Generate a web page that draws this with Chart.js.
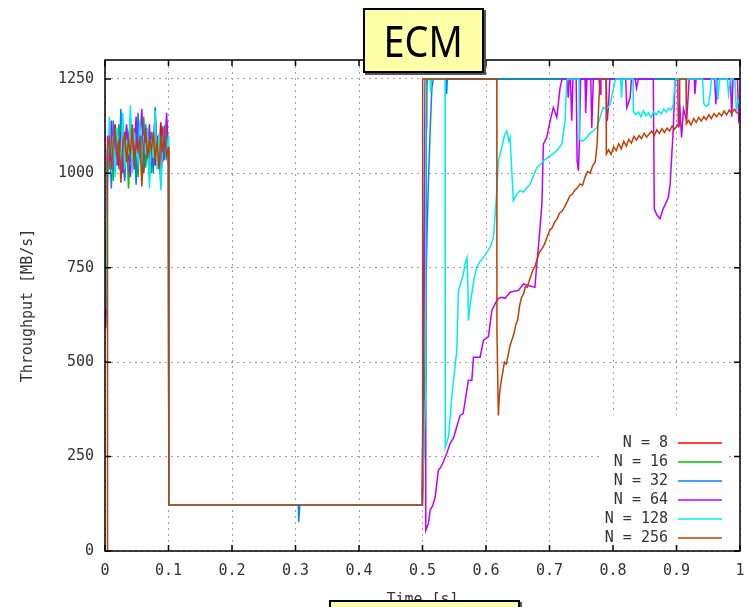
<!DOCTYPE html>
<html>
<head>
<meta charset="utf-8">
<script src="https://cdn.jsdelivr.net/npm/chart.js@4.4.1/dist/chart.umd.min.js"></script>
<style>
  body { margin: 0; background: #fff; }
  #wrap { position: relative; width: 748px; height: 607px; overflow: hidden; }
  .box { position: absolute; background: #ffffa8; border: 2px solid #000; box-shadow: 2px 2px 0 #555; }
  #titleBox { left: 363px; top: 8px; width: 117px; height: 61px; text-align: center; }
  #titleBox span { display: inline-block; font-family: "Noto Sans", sans-serif; font-size: 44px; line-height: 61px; color: #000; transform: scaleX(0.86); }
  #footBox { left: 329px; top: 600px; width: 187px; height: 30px; }
</style>
</head>
<body>
<div id="wrap">
  <canvas id="chart" width="748" height="607"></canvas>
  <div class="box" id="titleBox"><span>ECM</span></div>
  <div class="box" id="footBox"></div>
</div>
<script>
// series names and colours (gnuplot defaults)
const seriesNames = ['N = 8', 'N = 16', 'N = 32', 'N = 64', 'N = 128', 'N = 256'];
const seriesColors = ['#ff0000', '#00c000', '#0080ff', '#c000ff', '#00eeee', '#c04000'];

const xTicks = [0, 0.1, 0.2, 0.3, 0.4, 0.5, 0.6, 0.7, 0.8, 0.9, 1];
const yTicks = [0, 250, 500, 750, 1000, 1250];

// time stamps of the start-up burst (0 .. 0.1 s), shared by all series
const burstTimes = [0.004, 0.007, 0.01, 0.013, 0.016, 0.019, 0.022, 0.025, 0.028, 0.031, 0.034,
  0.037, 0.04, 0.043, 0.046, 0.049, 0.052, 0.055, 0.058, 0.061, 0.064, 0.067, 0.07, 0.073,
  0.076, 0.079, 0.082, 0.085, 0.088, 0.091, 0.094, 0.097, 0.1];

const burst8 = [1040, 1110, 1000, 1090, 1130, 1020, 1080, 1050, 1120, 990, 1070, 1100, 1030, 1085, 1010, 1095,
  1045, 1125, 1060, 1000, 1080, 1040, 1110, 1050, 1090, 1020, 1100, 1060, 1135, 1030, 1080, 1045, 1060];
const burst16 = [1070, 1010, 1100, 980, 1080, 1050, 1130, 1000, 1090, 1040, 1110, 960, 1075, 1030, 1120, 1055,
  990, 1100, 1045, 1150, 1015, 1085, 1060, 1000, 1070, 1120, 1035, 1095, 975, 1110, 1050, 1140, 1030];
const burst32 = [1000, 1090, 960, 1140, 1030, 1100, 1010, 1170, 1050, 980, 1120, 1060, 1150, 1020, 1090, 970,
  1160, 1040, 1100, 1010, 1130, 1055, 990, 1110, 1000, 1175, 1045, 1085, 965, 1125, 1035, 1100, 1020];
const burst64 = [1100, 1030, 1140, 1010, 1095, 1060, 1020, 1110, 1000, 1075, 1130, 1045, 990, 1100, 1060, 1150,
  1025, 1085, 1170, 1040, 1100, 1060, 1130, 1020, 1080, 1155, 1035, 1090, 1000, 1120, 1065, 1160, 1050];
const burst128 = [1020, 1150, 1000, 1100, 990, 1120, 1060, 1040, 1160, 1010, 1090, 1050, 1180, 1000, 1110, 1060,
  1030, 1140, 980, 1100, 1050, 1120, 960, 1090, 1040, 1165, 1010, 1105, 955, 1080, 1130, 1040, 1100];
const burst256 = [1060, 1100, 1010, 1080, 1120, 1040, 1090, 975, 1070, 1110, 1030, 1090, 1050, 1130, 1020, 1080,
  1060, 1100, 965, 1070, 1120, 1040, 1090, 1060, 1110, 1035, 1085, 1010, 1100, 1055, 1125, 1045, 1070];

// first sample before the burst  [t, MB/s]
const start8 = [[0.001, 590]];
const start16 = [[0.001, 670]];
const start32 = [[0.001, 600]];
const start64 = [[0.001, 620]];
const start128 = [[0.001, 640]];
const start256 = [[0.0035, 0]];

// everything after the burst  [t, MB/s]
const rest8 = [[0.1005, 122], [0.4995, 122], [0.5045, 1100], [0.505, 1250], [0.506, 1120], [0.5065, 1250], [1.0, 1250]];

const rest16 = [[0.1005, 122], [0.4995, 122], [0.502, 300], [0.505, 650], [0.5065, 1230], [0.508, 1250], [1.0, 1250]];

const rest32 = [[0.1005, 122], [0.3045, 122], [0.305, 77], [0.306, 110], [0.3065, 122], [0.4995, 122],
  [0.505, 452], [0.5053, 681], [0.5069, 822], [0.5095, 989], [0.5122, 1121], [0.5148, 1227], [0.517, 1250],
  [0.537, 1250], [0.538, 1210], [0.539, 1250], [1.0, 1250]];

const rest64 = [[0.1005, 122], [0.4995, 122], [0.504, 1250], [0.505, 1250], [0.5053, 55],
  [0.5094, 73], [0.512, 108], [0.516, 120], [0.52, 143], [0.525, 214], [0.528, 220], [0.5305, 227],
  [0.5383, 259], [0.5435, 285], [0.549, 300], [0.554, 329], [0.5593, 359], [0.564, 364], [0.5723, 452],
  [0.5777, 452], [0.5802, 513], [0.5907, 513], [0.596, 558], [0.6038, 567], [0.6092, 637], [0.6144, 655],
  [0.6196, 669], [0.625, 672], [0.63, 669], [0.638, 685], [0.645, 688], [0.651, 690], [0.659, 707],
  [0.667, 703], [0.677, 698], [0.68, 760], [0.6825, 804], [0.688, 918], [0.6904, 1078], [0.6957, 1095],
  [0.701, 1139], [0.706, 1174], [0.7115, 1148], [0.7167, 1227], [0.72, 1250],
  [0.728, 1250], [0.7295, 1200], [0.731, 1250], [0.733, 1250], [0.735, 1139], [0.737, 1250],
  [0.742, 1250], [0.7435, 1033], [0.7455, 1007], [0.747, 1078], [0.749, 1250], [0.756, 1250],
  [0.757, 1160], [0.759, 1250], [0.765, 1250], [0.7666, 1120], [0.769, 1250], [0.778, 1250],
  [0.7796, 1210], [0.781, 1250], [0.789, 1250], [0.791, 1139], [0.793, 1180], [0.795, 1250],
  [0.82, 1250], [0.8217, 1174], [0.827, 1200], [0.829, 1250], [0.835, 1250], [0.837, 1225], [0.84, 1250],
  [0.8635, 1250], [0.865, 906], [0.869, 890], [0.874, 880], [0.879, 906], [0.887, 935], [0.89, 972],
  [0.895, 1121], [0.8977, 1245], [0.902, 1250], [0.903, 1121], [0.905, 1180], [0.908, 1095], [0.911, 1170],
  [0.916, 1139], [0.92, 1250], [0.928, 1250], [0.929, 1210], [0.931, 1250], [0.96, 1250], [0.962, 1183],
  [0.964, 1250], [0.985, 1250], [0.987, 1150], [0.989, 1250], [0.996, 1250], [0.998, 1140], [1.0, 1150]];

const rest128 = [[0.1005, 122], [0.4995, 122], [0.5045, 400], [0.505, 1250], [0.512, 1250], [0.513, 1215],
  [0.514, 1250], [0.5355, 1250], [0.5358, 275], [0.541, 302], [0.546, 407], [0.554, 531], [0.5566, 690],
  [0.5605, 710], [0.5645, 734], [0.567, 760], [0.57, 777], [0.5715, 700], [0.5723, 610], [0.575, 650],
  [0.5777, 682], [0.581, 720], [0.5856, 751], [0.59, 765], [0.596, 777], [0.601, 790], [0.6065, 804],
  [0.6117, 830], [0.616, 927], [0.6196, 1033], [0.625, 1069], [0.629, 1100], [0.6328, 1112], [0.636, 1085],
  [0.638, 1095], [0.6406, 1007], [0.643, 927], [0.6485, 945], [0.6537, 954], [0.659, 950], [0.6643, 962],
  [0.6695, 972], [0.675, 995], [0.68, 1015], [0.685, 1022], [0.6904, 1033], [0.696, 1040], [0.701, 1047],
  [0.706, 1052], [0.7115, 1060], [0.7194, 1078], [0.7245, 1139], [0.7272, 1245], [0.7285, 1250],
  [0.7465, 1250], [0.747, 1090], [0.752, 1085], [0.7587, 1095], [0.763, 1105], [0.7686, 1112],
  [0.7745, 1121], [0.7796, 1148], [0.7845, 1174], [0.79, 1170], [0.7956, 1183], [0.8032, 1245],
  [0.805, 1250], [0.812, 1250], [0.8135, 1200], [0.815, 1250], [0.8315, 1250], [0.832, 1165],
  [0.836, 1155], [0.84, 1162], [0.844, 1150], [0.848, 1165], [0.852, 1152], [0.856, 1160], [0.86, 1148],
  [0.864, 1163], [0.868, 1155], [0.872, 1165], [0.876, 1158], [0.88, 1170], [0.884, 1162], [0.888, 1172],
  [0.892, 1168], [0.895, 1183], [0.8977, 1245], [0.899, 1250], [0.941, 1250], [0.943, 1185], [0.946, 1178],
  [0.95, 1180], [0.953, 1210], [0.955, 1250], [0.963, 1250], [0.965, 1195], [0.968, 1250], [0.98, 1250],
  [0.982, 1210], [0.985, 1250], [0.992, 1250], [0.994, 1170], [0.997, 1190], [1.0, 1200]];

const rest256 = [[0.1005, 122], [0.4995, 122], [0.5, 909], [0.5005, 1250], [0.617, 1250], [0.6172, 584],
  [0.6195, 359], [0.621, 410], [0.623, 440], [0.626, 470], [0.629, 500], [0.632, 495], [0.635, 520],
  [0.638, 545], [0.641, 560], [0.644, 575], [0.647, 600], [0.65, 612], [0.653, 650], [0.656, 672],
  [0.659, 680], [0.662, 700], [0.665, 698], [0.668, 715], [0.671, 730], [0.674, 745], [0.677, 752],
  [0.68, 770], [0.684, 790], [0.688, 800], [0.692, 812], [0.696, 830], [0.7, 848], [0.704, 855],
  [0.708, 870], [0.712, 880], [0.716, 895], [0.72, 900], [0.724, 912], [0.728, 925], [0.732, 940],
  [0.736, 945], [0.74, 955], [0.744, 962], [0.748, 972], [0.752, 968], [0.756, 990], [0.76, 1005],
  [0.764, 1000], [0.768, 1020], [0.772, 1030], [0.775, 1078], [0.778, 1200], [0.7796, 1250], [0.789, 1250],
  [0.7895, 1051], [0.793, 1062], [0.797, 1050], [0.801, 1070], [0.805, 1060], [0.809, 1078], [0.813, 1065],
  [0.817, 1085], [0.821, 1072], [0.825, 1090], [0.829, 1080], [0.833, 1098], [0.837, 1088], [0.841, 1100],
  [0.845, 1092], [0.849, 1106], [0.853, 1096], [0.857, 1104], [0.861, 1112], [0.865, 1100], [0.869, 1115],
  [0.873, 1105], [0.877, 1118], [0.881, 1108], [0.885, 1120], [0.889, 1112], [0.893, 1125], [0.897, 1116],
  [0.901, 1128], [0.9045, 1126], [0.905, 1250], [0.915, 1250], [0.9155, 1131], [0.919, 1140], [0.923, 1128],
  [0.927, 1145], [0.931, 1135], [0.935, 1148], [0.939, 1138], [0.943, 1150], [0.947, 1142], [0.951, 1155],
  [0.955, 1145], [0.959, 1158], [0.963, 1150], [0.967, 1160], [0.971, 1152], [0.975, 1165], [0.979, 1155],
  [0.983, 1168], [0.987, 1158], [0.991, 1170], [0.995, 1160], [1.0, 1158]];

const starts = [start8, start16, start32, start64, start128, start256];
const bursts = [burst8, burst16, burst32, burst64, burst128, burst256];
const rests = [rest8, rest16, rest32, rest64, rest128, rest256];

const monoFont = '"DejaVu Sans Mono", monospace';
const textColor = '#333';

function buildPoints(i) {
    const pts = starts[i].map(p => ({ x: p[0], y: p[1] }));
    burstTimes.forEach((t, k) => pts.push({ x: t, y: bursts[i][k] }));
    rests[i].forEach(p => pts.push({ x: p[0], y: p[1] }));
    return pts;
}

const datasets = seriesNames.map((name, i) => ({
    label: name,
    data: buildPoints(i),
    borderColor: seriesColors[i],
    backgroundColor: seriesColors[i],
    borderWidth: 1.5,
    pointRadius: 0,
    tension: 0,
    fill: false,
    order: seriesNames.length - i // later series drawn on top, like gnuplot
}));

// frame, inward tick marks and the key inside the plot
const gnuplotFrame = {
    id: 'gnuplotFrame',
    beforeDatasetsDraw(chart) {
        // the key has an opaque background that hides the grid
        const area = chart.chartArea;
        const n = chart.data.datasets.length;
        chart.ctx.save();
        chart.ctx.fillStyle = '#fff';
        chart.ctx.fillRect(area.right - 137, area.bottom - 22 - n * 19, 123, n * 19 + 20);
        chart.ctx.restore();
    },
    afterDatasetsDraw(chart) {
        const ctx = chart.ctx;
        const area = chart.chartArea;
        const xs = chart.scales.x;
        const ys = chart.scales.y;
        ctx.save();
        ctx.strokeStyle = '#000';
        ctx.lineWidth = 1.5;
        ctx.beginPath();
        xTicks.forEach(v => {
            const px = xs.getPixelForValue(v);
            ctx.moveTo(px, area.bottom); ctx.lineTo(px, area.bottom - 6);
            ctx.moveTo(px, area.top); ctx.lineTo(px, area.top + 6);
        });
        yTicks.forEach(v => {
            const py = ys.getPixelForValue(v);
            ctx.moveTo(area.left, py); ctx.lineTo(area.left + 6, py);
            ctx.moveTo(area.right, py); ctx.lineTo(area.right - 6, py);
        });
        ctx.stroke();
        ctx.strokeRect(area.left, area.top, area.right - area.left, area.bottom - area.top);

        // key
        const n = chart.data.datasets.length;
        ctx.font = '15px ' + monoFont;
        ctx.textAlign = 'right';
        ctx.textBaseline = 'middle';
        chart.data.datasets.forEach((ds, i) => {
            const y = area.bottom - 13 - (n - 1 - i) * 19;
            ctx.fillStyle = textColor;
            ctx.fillText(ds.label, area.right - 72, y);
            ctx.strokeStyle = ds.borderColor;
            ctx.lineWidth = 1.5;
            ctx.beginPath();
            ctx.moveTo(area.right - 62, y);
            ctx.lineTo(area.right - 18, y);
            ctx.stroke();
        });
        ctx.restore();
    }
};

new Chart(document.getElementById('chart'), {
    type: 'line',
    data: { datasets: datasets },
    options: {
        responsive: false,
        animation: false,
        events: [],
        layout: { padding: { top: 60, right: 8, left: 0, bottom: 0 } },
        plugins: { legend: { display: false }, tooltip: { enabled: false } },
        scales: {
            x: {
                type: 'linear',
                min: 0,
                max: 1,
                afterFit(scale) {
                    scale.height = 56;
                    scale.paddingLeft = 0;
                    scale.paddingRight = 0;
                },
                afterBuildTicks(scale) { scale.ticks = xTicks.map(v => ({ value: v })); },
                ticks: {
                    color: textColor,
                    font: { family: monoFont, size: 15 },
                    padding: 11,
                    maxRotation: 0,
                    autoSkip: false,
                    callback: v => String(Number(v.toFixed(1)))
                },
                grid: { color: '#a0a0a0', lineWidth: 1, drawTicks: false },
                border: { display: false, dash: [2, 4] },
                title: {
                    display: true,
                    text: 'Time [s]',
                    color: textColor,
                    font: { family: monoFont, size: 15 },
                    padding: { top: 0, bottom: -2 }
                }
            },
            y: {
                type: 'linear',
                min: 0,
                max: 1300,
                afterFit(scale) {
                    scale.width = 105;
                    scale.paddingTop = 0;
                    scale.paddingBottom = 0;
                },
                afterBuildTicks(scale) { scale.ticks = yTicks.map(v => ({ value: v })); },
                ticks: {
                    color: textColor,
                    font: { family: monoFont, size: 15 },
                    padding: 11,
                    callback: v => String(v)
                },
                grid: { color: '#a0a0a0', lineWidth: 1, drawTicks: false },
                border: { display: false, dash: [2, 4] },
                title: {
                    display: true,
                    text: 'Throughput [MB/s]',
                    color: textColor,
                    font: { family: monoFont, size: 15 },
                    padding: { top: 19, bottom: 0 }
                }
            }
        }
    },
    plugins: [gnuplotFrame]
});
</script>
</body>
</html>
